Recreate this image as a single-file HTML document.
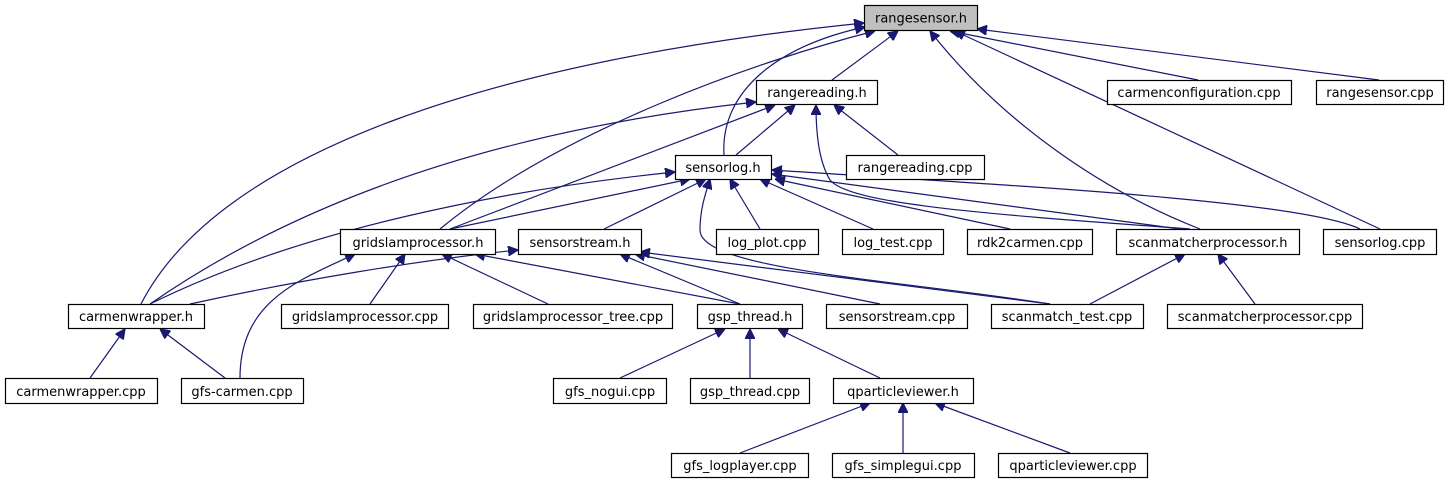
<!DOCTYPE html>
<html><head><meta charset="utf-8"><style>
html,body{margin:0;padding:0;background:#fff;}
svg{display:block}
text{font-family:"DejaVu Sans","Liberation Sans",sans-serif;font-size:13px;fill:#000;text-anchor:middle}
rect{fill:#fff;stroke:#000;stroke-width:1.2}
path{fill:none;stroke:#191970;stroke-width:1.2}
</style></head><body>
<svg width="1450" height="485" viewBox="0 0 1450 485" xmlns="http://www.w3.org/2000/svg">
<defs><marker id="a" viewBox="0 0 10 10" refX="10" refY="5" markerWidth="10" markerHeight="10" markerUnits="userSpaceOnUse" orient="auto"><path d="M0,0 L10,5 L0,10 z" style="fill:#191970;stroke:#191970"/></marker></defs>
<g marker-end="url(#a)">
<path d="M832,80 L898,31"/>
<path d="M1198,80 L950,31"/>
<path d="M1379,80 L977,29"/>
<path d="M724,155 C720,90 780,45 865,27"/>
<path d="M440,229 C560,130 760,60 875,31"/>
<path d="M141,304 C220,150 500,60 864,23"/>
<path d="M1200,229 C1100,190 1000,120 930,31"/>
<path d="M1380,229 L955,31"/>
<path d="M736,155 L795,105"/>
<path d="M898,155 L834,105"/>
<path d="M450,229 L775,105"/>
<path d="M150,304 C300,200 500,130 756,102"/>
<path d="M1190,229 C1000,215 850,205 830,180 C818,160 816,130 816,105"/>
<path d="M450,229 L690,179"/>
<path d="M604,229 L706,179"/>
<path d="M760,229 L730,179"/>
<path d="M873,229 L760,179"/>
<path d="M1010,229 L775,179"/>
<path d="M1180,229 L772,174"/>
<path d="M1360,229 C1300,200 1000,185 772,170"/>
<path d="M150,304 C300,230 500,190 675,172"/>
<path d="M1050,304 C900,280 700,270 700,230 C700,210 705,195 710,179"/>
<path d="M370,304 L405,254"/>
<path d="M548,304 L442,254"/>
<path d="M740,304 L475,254"/>
<path d="M240,378 C240,300 300,280 355,254"/>
<path d="M190,304 C300,280 420,260 518,250"/>
<path d="M740,304 L620,254"/>
<path d="M880,304 L635,254"/>
<path d="M1050,304 L640,252"/>
<path d="M1090,304 L1185,254"/>
<path d="M1255,304 L1218,254"/>
<path d="M90,378 L125,329"/>
<path d="M225,378 L160,329"/>
<path d="M620,378 L725,329"/>
<path d="M750,378 L750,329"/>
<path d="M880,378 L778,329"/>
<path d="M740,453 L870,403"/>
<path d="M903,453 L903,403"/>
<path d="M1070,453 L935,403"/>
</g>
<g>
<rect x="864.5" y="5.5" width="113" height="25" style="fill:#bfbfbf"/><text x="921" y="22.5">rangesensor.h</text>
<rect x="756.5" y="80.5" width="121" height="24"/><text x="817" y="97">rangereading.h</text>
<rect x="1107.5" y="80.5" width="184" height="24"/><text x="1199" y="97">carmenconfiguration.cpp</text>
<rect x="1316.5" y="80.5" width="127" height="24"/><text x="1380" y="97">rangesensor.cpp</text>
<rect x="675.5" y="155.5" width="96" height="24"/><text x="723" y="172">sensorlog.h</text>
<rect x="846.5" y="155.5" width="138" height="24"/><text x="915" y="172">rangereading.cpp</text>
<rect x="340.5" y="229.5" width="155" height="25"/><text x="418" y="247">gridslamprocessor.h</text>
<rect x="518.5" y="229.5" width="123" height="25"/><text x="580" y="247">sensorstream.h</text>
<rect x="716.5" y="229.5" width="102" height="25"/><text x="767" y="247">log_plot.cpp</text>
<rect x="842.5" y="229.5" width="101" height="25"/><text x="893" y="247">log_test.cpp</text>
<rect x="967.5" y="229.5" width="125" height="25"/><text x="1030" y="247">rdk2carmen.cpp</text>
<rect x="1116.5" y="229.5" width="183" height="25"/><text x="1208" y="247">scanmatcherprocessor.h</text>
<rect x="1323.5" y="229.5" width="113" height="25"/><text x="1380" y="247">sensorlog.cpp</text>
<rect x="68.5" y="304.5" width="136" height="24"/><text x="136" y="321">carmenwrapper.h</text>
<rect x="281.5" y="304.5" width="167" height="24"/><text x="365" y="321">gridslamprocessor.cpp</text>
<rect x="473.5" y="304.5" width="199" height="24"/><text x="573" y="321">gridslamprocessor_tree.cpp</text>
<rect x="697.5" y="304.5" width="105" height="24"/><text x="750" y="321">gsp_thread.h</text>
<rect x="826.5" y="304.5" width="141" height="24"/><text x="897" y="321">sensorstream.cpp</text>
<rect x="991.5" y="304.5" width="152" height="24"/><text x="1067" y="321">scanmatch_test.cpp</text>
<rect x="1167.5" y="304.5" width="195" height="24"/><text x="1265" y="321">scanmatcherprocessor.cpp</text>
<rect x="5.5" y="378.5" width="152" height="25"/><text x="81" y="396">carmenwrapper.cpp</text>
<rect x="181.5" y="378.5" width="122" height="25"/><text x="242" y="396">gfs-carmen.cpp</text>
<rect x="553.5" y="378.5" width="113" height="25"/><text x="610" y="396">gfs_nogui.cpp</text>
<rect x="690.5" y="378.5" width="119" height="25"/><text x="750" y="396">gsp_thread.cpp</text>
<rect x="833.5" y="378.5" width="140" height="25"/><text x="903" y="396">qparticleviewer.h</text>
<rect x="671.5" y="453.5" width="137" height="24"/><text x="740" y="470">gfs_logplayer.cpp</text>
<rect x="832.5" y="453.5" width="142" height="24"/><text x="903" y="470">gfs_simplegui.cpp</text>
<rect x="998.5" y="453.5" width="149" height="24"/><text x="1073" y="470">qparticleviewer.cpp</text>
</g>
</svg>
</body></html>
